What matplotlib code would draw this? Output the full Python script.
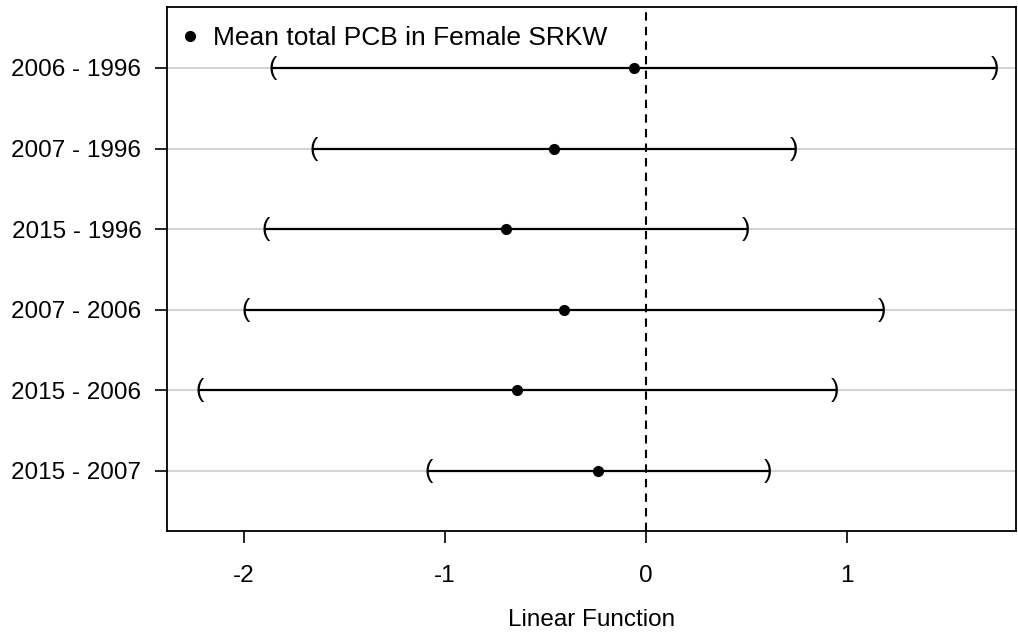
import matplotlib
matplotlib.use("Agg")
import matplotlib.pyplot as plt

plt.rcParams['font.family'] = ['Liberation Sans', 'DejaVu Sans']

# contrasts, top to bottom
contrasts = ["2006 - 1996", "2007 - 1996", "2015 - 1996",
             "2007 - 2006", "2015 - 2006", "2015 - 2007"]
est = [-0.058, -0.457, -0.696, -0.405, -0.643, -0.237]
lower = [-1.854, -1.650, -1.889, -1.988, -2.217, -1.082]
upper = [1.735, 0.736, 0.497, 1.173, 0.939, 0.608]
xticks = [-2, -1, 0, 1]

fig = plt.figure(figsize=(10.18, 6.35), dpi=100)
ax = fig.add_axes([0.164, 0.164, 0.834, 0.825])

ypos = list(range(len(contrasts), 0, -1))

for y in ypos:
    ax.axhline(y, color='#d4d4d4', lw=1.5, zorder=1)

ax.axvline(0, color='black', lw=1.5, ls=(0, (4, 3)), zorder=2)

for y, e, lo, hi in zip(ypos, est, lower, upper):
    ax.plot([lo, hi], [y, y], color='black', lw=1.6, zorder=3)
    ax.text(lo, y, "(", ha='center', va='center', fontsize=18, zorder=4)
    ax.text(hi, y, ")", ha='center', va='center', fontsize=18, zorder=4)

ax.plot(est, ypos, 'o', color='black', ms=7, zorder=5,
        label="Mean total PCB in Female SRKW")

ax.set_xlim(-2.381, 1.839)
ax.set_ylim(0.255, 6.757)
ax.set_xticks(xticks)
ax.set_xticklabels([str(t) for t in xticks])
ax.set_yticks(ypos)
ax.set_yticklabels(contrasts)
ax.tick_params(axis='both', direction='out', length=8.5, width=1.2,
               labelsize=17.5, color='black')
ax.tick_params(axis='x', pad=16)
ax.tick_params(axis='y', pad=10)
for s in ax.spines.values():
    s.set_linewidth(1.3)

ax.set_xlabel("Linear Function", fontsize=17.5)
ax.xaxis.label.set_va('center')
ax.xaxis.set_label_coords(0.5, -0.171)

ax.legend(loc='center left', bbox_to_anchor=(0.0146, 0.941), frameon=False,
          fontsize=19, handletextpad=0.47, handlelength=0.8,
          borderpad=0, borderaxespad=0)

fig.savefig("out.png", dpi=100)
